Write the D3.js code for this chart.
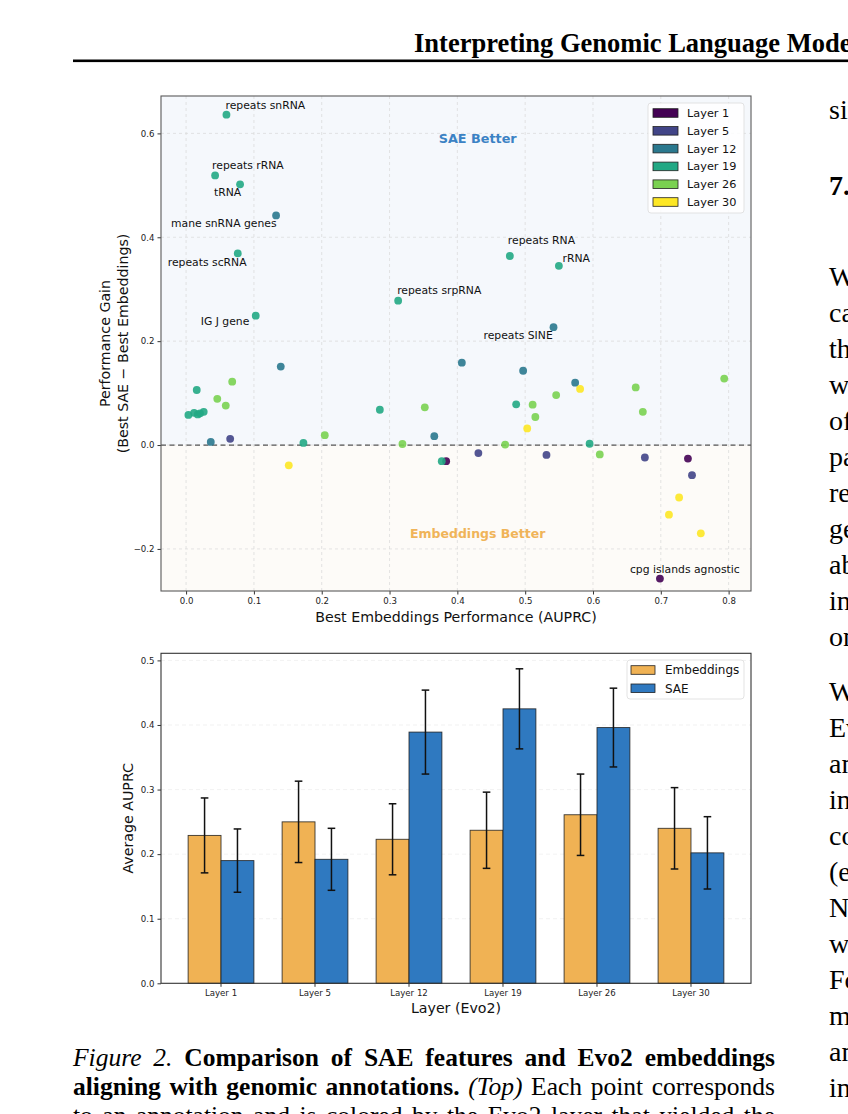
<!DOCTYPE html>
<html><head><meta charset="utf-8">
<script src="https://cdn.jsdelivr.net/npm/d3@7"></script>
<style>html,body{margin:0;padding:0;background:#fff;overflow:hidden}svg{display:block}</style>
</head><body>
<svg id="page" width="848" height="1114"></svg>
<script>
// ---------------- DATA ----------------
const layerNames  = ["Layer 1","Layer 5","Layer 12","Layer 19","Layer 26","Layer 30"];
const layerColors = ["#440154","#414487","#2a788e","#22a884","#7ad151","#fde725"];

// [best embeddings AUPRC, best SAE - best embeddings]
const layer1Points = [[0.3835,-0.031],[0.740,-0.026],[0.6987,-0.257]];
const layer5Points = [[0.065,0.012],[0.431,-0.0154],[0.5314,-0.019],[0.6765,-0.024],[0.746,-0.058]];
const layer12Points = [[0.1327,0.442],[0.5418,0.227],[0.1396,0.151],[0.0364,0.006],[0.366,0.017],
                       [0.4066,0.1586],[0.497,0.143],[0.5737,0.120]];
const layer19Points = [[0.0595,0.636],[0.0428,0.519],[0.0796,0.502],[0.0762,0.369],[0.3127,0.278],
                       [0.1027,0.249],[0.4774,0.364],[0.5497,0.345],[0.0157,0.106],[0.0034,0.058],
                       [0.0118,0.062],[0.0172,0.059],[0.0206,0.061],[0.026,0.064],[0.173,0.004],
                       [0.2857,0.068],[0.377,-0.031],[0.4867,0.0784],[0.595,0.0025]];
const layer26Points = [[0.068,0.122],[0.046,0.089],[0.0585,0.076],[0.2045,0.019],[0.352,0.0726],
                       [0.319,0.002],[0.5457,0.0963],[0.511,0.0777],[0.515,0.054],[0.4705,0.001],
                       [0.610,-0.018],[0.663,0.111],[0.6735,0.064],[0.7935,0.128]];
const layer30Points = [[0.1514,-0.039],[0.581,0.108],[0.503,0.032],[0.727,-0.101],[0.712,-0.134],[0.759,-0.170]];
const pointsByLayer = [layer1Points,layer5Points,layer12Points,layer19Points,layer26Points,layer30Points];

// annotated points: text, layer index, point index
const annotationTexts  = ["repeats snRNA","repeats rRNA","tRNA","mane snRNA genes","repeats scRNA",
                          "repeats srpRNA","IG J gene","repeats RNA","rRNA","repeats SINE","cpg islands agnostic"];
const annotationLayer  = [3,3,3,2,3,3,3,3,3,2,0];
const annotationIndex  = [0,1,2,0,3,4,5,6,7,1,2];

const scatterXTicks = [0,0.1,0.2,0.3,0.4,0.5,0.6,0.7,0.8];
const scatterYTicks = [-0.2,0,0.2,0.4,0.6];

const barLayers       = ["Layer 1","Layer 5","Layer 12","Layer 19","Layer 26","Layer 30"];
const embeddingMeans  = [0.229,0.250,0.223,0.237,0.261,0.240];
const embeddingErrors = [0.058,0.063,0.055,0.059,0.063,0.063];
const saeMeans        = [0.190,0.192,0.389,0.425,0.396,0.202];
const saeErrors       = [0.049,0.048,0.065,0.062,0.061,0.056];
const barSeries       = ["Embeddings","SAE"];
const barYTicks       = [0,0.1,0.2,0.3,0.4,0.5];

// ---------------- LAYOUT / STYLE ----------------
const annotationOffsets = [[-1,-6],[-3,-6.5],[-26,12],[-105,12],[-70,12.5],[-1,-6.5],[-55,9],[-2,-12],[3.6,-3.7],[-70,12],[-30,-6]];
const SANS = "DejaVu Sans, sans-serif";
const SERIF = "Liberation Serif, Times New Roman, serif";
const barColors = ["#f0b254","#2f79c0"];

const svg = d3.select("#page");

// ---------------- PAGE TEXT ----------------
svg.append("text").attr("x",414).attr("y",52).attr("font-family",SERIF).attr("font-weight","bold")
   .attr("font-size",26.5).attr("fill","#000").text("Interpreting Genomic Language Models");
svg.append("rect").attr("x",73).attr("y",59.5).attr("width",780).attr("height",2.6).attr("fill","#000");

// ---------------- SCATTER ----------------
const sx = d3.scaleLinear().domain([-0.037,0.833]).range([161,751]);
const sy = d3.scaleLinear().domain([-0.281,0.672]).range([591,96]);
const sg = svg.append("g");

sg.append("rect").attr("x",sx.range()[0]).attr("y",sy(sy.domain()[1]))
  .attr("width",sx.range()[1]-sx.range()[0]).attr("height",sy(0)-sy(sy.domain()[1])).attr("fill","#f5f8fc");
sg.append("rect").attr("x",sx.range()[0]).attr("y",sy(0))
  .attr("width",sx.range()[1]-sx.range()[0]).attr("height",sy(sy.domain()[0])-sy(0)).attr("fill","#fdfbf8");

// grid
sg.selectAll(".gx").data(scatterXTicks).enter().append("line")
  .attr("x1",d=>sx(d)).attr("x2",d=>sx(d)).attr("y1",sy.range()[0]).attr("y2",sy.range()[1])
  .attr("stroke","#d9d9d9").attr("stroke-width",0.7).attr("stroke-dasharray","3,3");
sg.selectAll(".gy").data(scatterYTicks).enter().append("line")
  .attr("y1",d=>sy(d)).attr("y2",d=>sy(d)).attr("x1",sx.range()[0]).attr("x2",sx.range()[1])
  .attr("stroke","#d9d9d9").attr("stroke-width",0.7).attr("stroke-dasharray","3,3");

// zero line
sg.append("line").attr("x1",sx.range()[0]).attr("x2",sx.range()[1]).attr("y1",sy(0)).attr("y2",sy(0))
  .attr("stroke","#555").attr("stroke-width",1.2).attr("stroke-dasharray","5,3.5");

sg.append("text").attr("x",sx(0.43)).attr("y",sy(0.6)+10).attr("text-anchor","middle")
  .attr("font-family",SANS).attr("font-weight","bold").attr("font-size",12.8).attr("fill","#3b82c4").text("SAE Better");
sg.append("text").attr("x",sx(0.43)).attr("y",sy(-0.17)+5).attr("text-anchor","middle")
  .attr("font-family",SANS).attr("font-weight","bold").attr("font-size",12.5).attr("fill","#f0b459").text("Embeddings Better");

// points
pointsByLayer.forEach((pts,li)=>{
  sg.selectAll(".p"+li).data(pts).enter().append("circle")
    .attr("cx",d=>sx(d[0])).attr("cy",d=>sy(d[1])).attr("r",3.9)
    .attr("fill",layerColors[li]).attr("fill-opacity",0.9);
});

// annotations
annotationTexts.forEach((t,i)=>{
  const p = pointsByLayer[annotationLayer[i]][annotationIndex[i]];
  sg.append("text").attr("x",sx(p[0])+annotationOffsets[i][0]).attr("y",sy(p[1])+annotationOffsets[i][1])
    .attr("font-family",SANS).attr("font-size",10.8).attr("fill","#111").text(t);
});

// axes
const sxAxis = sg.append("g").attr("transform",`translate(0,${sy.range()[0]})`)
  .call(d3.axisBottom(sx).tickValues(scatterXTicks).tickFormat(d3.format(".1f")).tickSize(3.5).tickPadding(3).tickSizeOuter(0));
const syAxis = sg.append("g").attr("transform",`translate(${sx.range()[0]},0)`)
  .call(d3.axisLeft(sy).tickValues(scatterYTicks).tickFormat(d3.format(".1f")).tickSize(3.5).tickPadding(3).tickSizeOuter(0));
[sxAxis,syAxis].forEach(a=>{
  a.select(".domain").remove();
  a.selectAll("text").attr("font-family",SANS).attr("font-size",8.6).attr("fill","#222");
  a.selectAll("line").attr("stroke","#333");
});
sg.append("rect").attr("x",sx.range()[0]).attr("y",sy.range()[1])
  .attr("width",sx.range()[1]-sx.range()[0]).attr("height",sy.range()[0]-sy.range()[1])
  .attr("fill","none").attr("stroke","#5a5a5a").attr("stroke-width",1.1);

sg.append("text").attr("x",(sx.range()[0]+sx.range()[1])/2).attr("y",622).attr("text-anchor","middle")
  .attr("font-family",SANS).attr("font-size",14.2).attr("fill","#111").text("Best Embeddings Performance (AUPRC)");
const ylab = sg.append("text").attr("transform",`translate(0,${(sy.range()[0]+sy.range()[1])/2}) rotate(-90)`)
  .attr("text-anchor","middle").attr("font-family",SANS).attr("font-size",14.2).attr("fill","#111");
ylab.append("tspan").attr("x",0).attr("y",110).text("Performance Gain");
ylab.append("tspan").attr("x",0).attr("y",127.5).text("(Best SAE \u2212 Best Embeddings)");

// legend
const lg = sg.append("g");
lg.append("rect").attr("x",648).attr("y",103).attr("width",96).attr("height",110).attr("rx",3)
  .attr("fill","#fff").attr("fill-opacity",0.85).attr("stroke","#dcdcdc").attr("stroke-width",0.8);
layerNames.forEach((n,i)=>{
  const cy = 113 + i*17.8;
  lg.append("rect").attr("x",653).attr("y",cy-4.3).attr("width",25).attr("height",8.6)
    .attr("fill",layerColors[i]).attr("stroke","#222").attr("stroke-width",0.8);
  lg.append("text").attr("x",687).attr("y",cy+4).attr("font-family",SANS).attr("font-size",11.3)
    .attr("fill","#111").text(n);
});

// ---------------- BAR CHART ----------------
const bx = d3.scaleBand().domain(barLayers).range([161,751]).paddingInner(0.3).paddingOuter(0.2885);
const bInner = d3.scaleBand().domain(barSeries).range([0,bx.bandwidth()]);
const by = d3.scaleLinear().domain([0,0.511]).range([983.3,653.3]);
const bg = svg.append("g");

bg.selectAll(".bgrid").data(barYTicks.slice(1)).enter().append("line")
  .attr("x1",161).attr("x2",751).attr("y1",d=>by(d)).attr("y2",d=>by(d))
  .attr("stroke","#ececec").attr("stroke-width",0.7).attr("stroke-dasharray","4,3");

const seriesMeans = [embeddingMeans,saeMeans];
const seriesErrs  = [embeddingErrors,saeErrors];
barSeries.forEach((s,si)=>{
  const rows = barLayers.map((l,i)=>({l,v:seriesMeans[si][i],e:seriesErrs[si][i]}));
  bg.selectAll(".bar"+si).data(rows).enter().append("rect")
    .attr("x",d=>bx(d.l)+bInner(s)).attr("width",bInner.bandwidth())
    .attr("y",d=>by(d.v)).attr("height",d=>by(0)-by(d.v))
    .attr("fill",barColors[si]).attr("stroke","#1a1a1a").attr("stroke-opacity",0.85).attr("stroke-width",0.9);
});
barSeries.forEach((s,si)=>{
  const rows = barLayers.map((l,i)=>({l,v:seriesMeans[si][i],e:seriesErrs[si][i]}));
  const cx = d=>bx(d.l)+bInner(s)+bInner.bandwidth()/2;
  const eg = bg.selectAll(".err"+si).data(rows).enter().append("g").attr("stroke","#111").attr("stroke-width",1.5);
  eg.append("line").attr("x1",cx).attr("x2",cx).attr("y1",d=>by(d.v+d.e)).attr("y2",d=>by(d.v-d.e));
  eg.append("line").attr("x1",d=>cx(d)-3.8).attr("x2",d=>cx(d)+3.8).attr("y1",d=>by(d.v+d.e)).attr("y2",d=>by(d.v+d.e));
  eg.append("line").attr("x1",d=>cx(d)-3.8).attr("x2",d=>cx(d)+3.8).attr("y1",d=>by(d.v-d.e)).attr("y2",d=>by(d.v-d.e));
});

const bxAxis = bg.append("g").attr("transform",`translate(0,${by(0)})`)
  .call(d3.axisBottom(bx).tickSize(3.5).tickPadding(3).tickSizeOuter(0));
const byAxis = bg.append("g").attr("transform",`translate(161,0)`)
  .call(d3.axisLeft(by).tickValues(barYTicks).tickFormat(d3.format(".1f")).tickSize(3.5).tickPadding(3).tickSizeOuter(0));
[bxAxis,byAxis].forEach(a=>{
  a.select(".domain").remove();
  a.selectAll("text").attr("font-family",SANS).attr("font-size",8.6).attr("fill","#222");
  a.selectAll("line").attr("stroke","#333");
});
bg.append("rect").attr("x",161).attr("y",by.range()[1]).attr("width",590).attr("height",by.range()[0]-by.range()[1])
  .attr("fill","none").attr("stroke","#333").attr("stroke-width",1.1);

bg.append("text").attr("x",456).attr("y",1013).attr("text-anchor","middle")
  .attr("font-family",SANS).attr("font-size",14.2).attr("fill","#111").text("Layer (Evo2)");
bg.append("text").attr("transform",`translate(133,${(by.range()[0]+by.range()[1])/2}) rotate(-90)`)
  .attr("text-anchor","middle").attr("font-family",SANS).attr("font-size",14.2).attr("fill","#111").text("Average AUPRC");

const blg = bg.append("g");
blg.append("rect").attr("x",627).attr("y",660).attr("width",117).attr("height",39).attr("rx",3)
  .attr("fill","#fff").attr("fill-opacity",0.85).attr("stroke","#dcdcdc").attr("stroke-width",0.8);
barSeries.forEach((s,i)=>{
  const cy = 670 + i*18.3;
  blg.append("rect").attr("x",631).attr("y",cy-4.3).attr("width",24).attr("height",8.6)
    .attr("fill",barColors[i]).attr("stroke","#222").attr("stroke-width",0.8);
  blg.append("text").attr("x",665).attr("y",cy+4.3).attr("font-family",SANS).attr("font-size",12)
    .attr("fill","#111").text(s);
});

// ---------------- CAPTION ----------------
const captionLines = [
  [["Figure 2.","italic","normal"],[" Comparison of SAE features and Evo2 embeddings","normal","bold"]],
  [["aligning with genomic annotations.","normal","bold"],[" ","normal","normal"],["(Top)","italic","normal"],[" Each point corresponds","normal","normal"]],
  [["to an annotation and is colored by the Evo2 layer that yielded the","normal","normal"]]
];
captionLines.forEach((line,i)=>{
  const t = svg.append("text").attr("x",73).attr("y",1066+i*29).attr("font-family",SERIF).attr("font-size",25.5).attr("fill","#000");
  line.forEach(seg=>t.append("tspan").attr("font-style",seg[1]).attr("font-weight",seg[2]).text(seg[0]));
  const w = t.node().getComputedTextLength();
  const spaces = t.text().split(" ").length-1;
  t.attr("word-spacing",(775-73-w)/spaces);
});

// ---------------- RIGHT COLUMN FRAGMENTS ----------------
const colA = ["We","can","the","wh","of","par","rel","gen","abo","int","on"];
const colB = ["We","Ev","an","in","co","(e.","No","wh","Fo","ma","an","in","Ev"];
svg.append("text").attr("x",829).attr("y",119).attr("font-family",SERIF).attr("font-size",28).text("sim");
svg.append("text").attr("x",829).attr("y",195).attr("font-family",SERIF).attr("font-weight","bold").attr("font-size",28).text("7. Di");
colA.forEach((w,i)=>svg.append("text").attr("x",829).attr("y",286+i*36).attr("font-family",SERIF).attr("font-size",28).text(w));
colB.forEach((w,i)=>svg.append("text").attr("x",829).attr("y",701+i*36).attr("font-family",SERIF).attr("font-size",28).text(w));
</script>
</body></html>
